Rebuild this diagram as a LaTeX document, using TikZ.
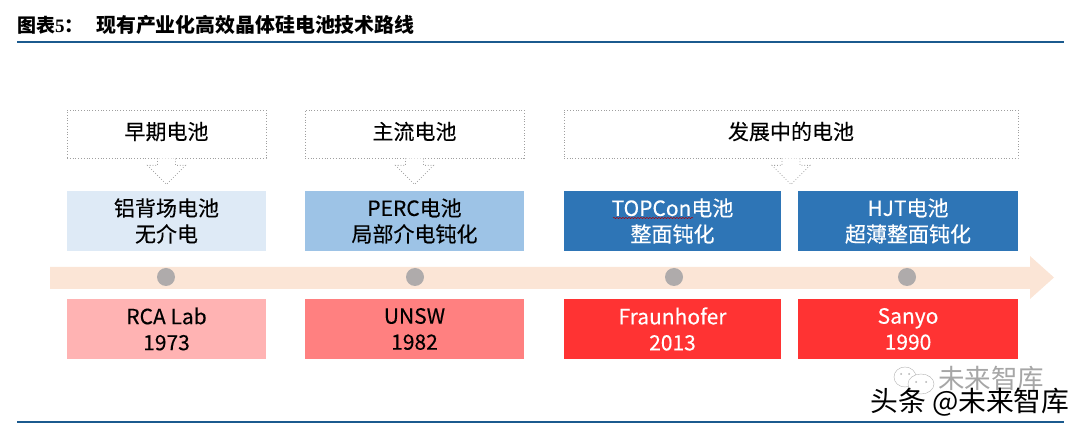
\documentclass[tikz,border=0pt]{standalone}
\usepackage{fontspec}
\setmainfont{Noto Sans CJK SC}
\newfontfamily\serifdigit{Liberation Serif}
\newfontfamily\cellfont[FakeBold=0.25]{Noto Sans CJK SC}
\usetikzlibrary{decorations.pathmorphing}
\definecolor{rulecol}{HTML}{1B5A8E}
\definecolor{bandcol}{HTML}{FBE5D6}
\definecolor{dotcol}{HTML}{AFABAB}
\definecolor{blueA}{HTML}{DEEAF6}
\definecolor{blueB}{HTML}{9DC3E6}
\definecolor{blueC}{HTML}{2E75B6}
\definecolor{redA}{HTML}{FFB3B3}
\definecolor{redB}{HTML}{FF8080}
\definecolor{redC}{HTML}{FF3333}
\tikzset{
  head/.style={draw=gray!75,dotted,line width=0.8,minimum height=48,inner sep=0pt,text height=14,text depth=3,font=\cellfont\fontsize{21}{24}\selectfont},
  cell/.style={minimum height=60,inner sep=0pt,align=center,font=\cellfont\fontsize{21}{26}\selectfont},
  hollow/.style={draw=gray!75,dotted,line width=0.8,fill=white},
  tick/.style={circle,fill=dotcol,minimum size=18,inner sep=0pt},
}
\begin{document}
\begin{tikzpicture}[x=1pt,y=-1pt]
  \useasboundingbox (0,0) rectangle (1080,427);
  % title and rules
  \node[anchor=west,inner sep=0pt,font=\fontsize{19}{23}\selectfont\bfseries] (figno) at (17,25) {图表{\serifdigit 5}：};
  \node[anchor=west,inner sep=0pt,font=\fontsize{19.9}{23}\selectfont\bfseries] (title) at (96,25) {现有产业化高效晶体硅电池技术路线};
  \coordinate (ruleA) at (17,42);
  \coordinate (ruleB) at (1064,42);
  \coordinate (ruleC) at (17,422);
  \coordinate (ruleD) at (1064,422);
  \draw[rulecol,line width=2] (ruleA) -- (ruleB);
  \draw[rulecol,line width=2] (ruleC) -- (ruleD);
  % timeline band
  \fill[bandcol] (50,267) -- (1030,267) -- (1030,256) -- (1054,277.5) -- (1030,299) -- (1030,289) -- (50,289) -- cycle;
  \node[tick] (t1) at (166,277) {};
  \node[tick] (t2) at (415,277) {};
  \node[tick] (t3) at (674,277) {};
  \node[tick] (t4) at (907,277) {};
  % groups
  \node[head,minimum width=199] (early) at (166.5,134) {早期电池};
  \node[head,minimum width=219] (main)  at (414.5,134) {主流电池};
  \node[head,minimum width=454] (new)   at (791,134)   {发展中的电池};
  % hollow arrows
  \foreach \g in {early,main,new} {
    \draw[hollow] (\g.south) ++(-9,0) -- ++(0,7) -- ++(-10,0) -- ++(19,19) -- ++(19,-19) -- ++(-10,0) -- ++(0,-7);
  }
  % cells
  \node[cell,fill=blueA] at (166.5,221) [minimum width=199] (alu) {铝背场电池\\无介电};
  \node[cell,fill=blueB] at (414.5,221) [minimum width=219] (perc) {PERC电池\\局部介电钝化};
  \node[cell,fill=blueC,text=white] at (672.5,221) [minimum width=217] (topcon) {TOPCon电池\\整面钝化};
  \node[cell,fill=blueC,text=white] at (908,221) [minimum width=220] (hjt) {HJT电池\\超薄整面钝化};
  \draw[red!70!black,line width=0.5,decorate,decoration={snake,amplitude=0.6,segment length=3}] (613,218) -- (693,218);
  \node[cell,fill=redA] at (166.5,329) [minimum width=199] (rca) {RCA Lab\\1973};
  \node[cell,fill=redB] at (414.5,329) [minimum width=219] (unsw) {UNSW\\1982};
  \node[cell,fill=redC,text=white] at (672.5,329) [minimum width=217] (fraun) {Fraunhofer\\2013};
  \node[cell,fill=redC,text=white] at (908,329) [minimum width=220] (sanyo) {Sanyo\\1990};
  % watermark
  \draw[gray!60,fill=white] (905,377) ellipse (11 and 10);
  \fill[gray!60] (901,374) circle (1) (909,374) circle (1);
  \draw[gray!60,fill=white] (921,384) ellipse (13 and 10);
  \fill[gray!60] (916,382) circle (1) (926,382) circle (1);
  \node[anchor=west,inner sep=0pt,text=gray!70,font=\fontsize{26.5}{30}\selectfont] (wmA) at (938,378) {未来智库};
  \node[anchor=west,inner sep=0pt,font=\fontsize{27.8}{30}\selectfont] (wmB) at (870,402) {头条 @未来智库};
\end{tikzpicture}
\end{document}
